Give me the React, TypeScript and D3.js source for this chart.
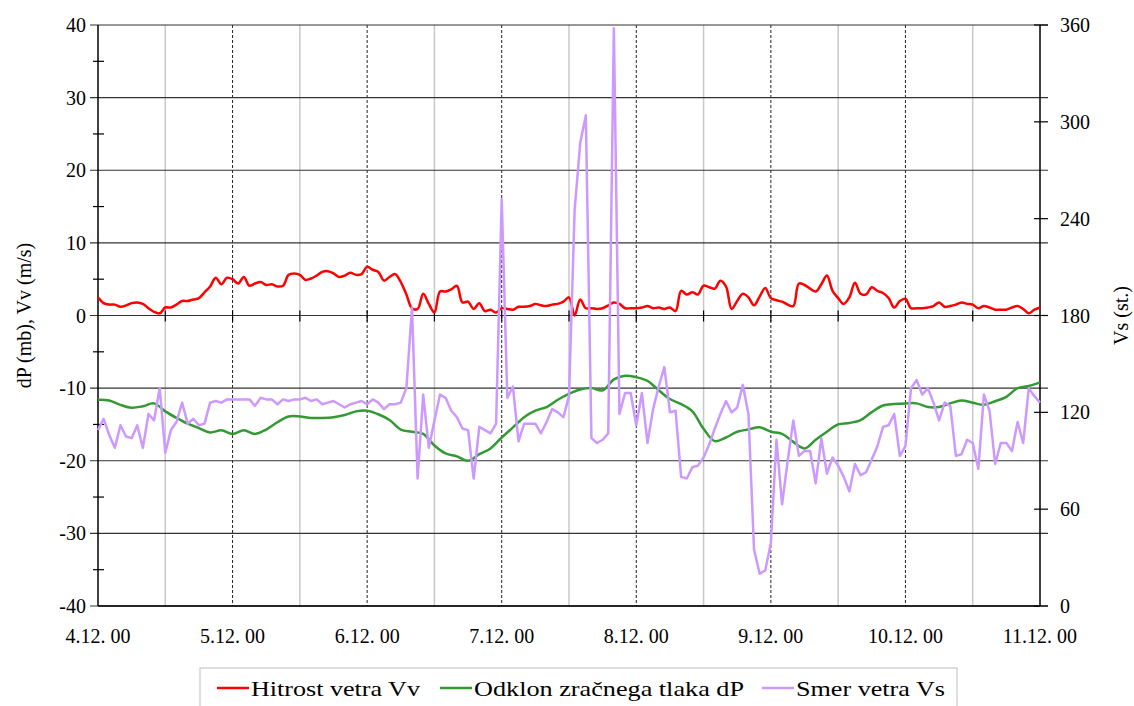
import React from 'react';
import * as d3 from 'd3';

// hourly wind speed Vv (m/s), 4.12.00 00h .. 11.12.00 00h
const vvHourly = [
  2.5, 1.7, 1.5, 1.5, 1.2, 1.4, 1.7, 1.8, 1.6, 1.0, 0.5, 0.3,
  1.1, 1.1, 1.5, 2.0, 2.0, 2.2, 2.4, 3.2, 4.0, 5.2, 4.3, 5.2,
  5.0, 4.4, 5.3, 4.1, 4.4, 4.6, 4.2, 4.3, 4.0, 4.1, 5.6, 5.8,
  5.6, 4.9, 5.1, 5.5, 6.0, 6.1, 5.8, 5.3, 5.5, 5.9, 5.6, 5.7,
  6.7, 6.3, 6.0, 4.8, 5.3, 5.7, 4.6, 2.9, 1.0, 0.9, 3.0, 1.6,
  0.4, 3.3, 3.3, 3.6, 4.1, 1.8, 1.9, 0.9, 1.7, 0.6, 0.8, 0.4,
  1.0, 0.9, 0.8, 1.2, 1.2, 1.3, 1.6, 1.4, 1.3, 1.5, 1.6, 1.9,
  2.5, 0.0, 2.2, 1.0, 1.0, 0.9, 1.0, 1.4, 1.8, 1.6, 1.0, 1.0,
  1.0, 1.1, 1.3, 1.0, 1.1, 0.9, 1.1, 0.6, 3.4, 2.9, 3.2, 2.9,
  4.1, 3.9, 3.7, 4.8, 4.0, 0.9, 2.0, 3.0, 2.5, 1.4, 2.6, 3.8,
  2.4, 2.1, 1.9, 1.5, 1.3, 4.4, 4.2, 3.7, 3.3, 4.3, 5.5, 3.4,
  2.4, 1.6, 2.5, 4.5, 3.0, 2.9, 3.9, 3.4, 3.1, 2.4, 1.1, 2.0,
  2.3, 1.0, 1.0, 1.0, 1.1, 1.3, 1.8, 1.2, 1.3, 1.5, 1.8, 1.6,
  1.5, 1.0, 1.3, 1.1, 0.8, 0.8, 0.8, 1.1, 1.3, 0.9, 0.3, 0.8,
  1.1,
];

// pressure deviation dP (mb), every 2 hours
const dpTwoHourly = [
  -11.6, -11.7, -12.3, -12.7, -12.5, -12.1, -13.2, -14.1, -14.9, -15.5, -16.1, -15.8,
  -16.3, -15.8, -16.3, -15.7, -14.7, -13.9, -13.9, -14.1, -14.1, -14.0, -13.7, -13.2,
  -13.1, -13.6, -14.4, -15.7, -16.0, -16.3, -17.9, -19.0, -19.4, -20.0, -19.1, -18.3,
  -16.8, -15.4, -14.0, -13.1, -12.6, -11.6, -10.8, -10.2, -10.0, -10.3, -8.8, -8.3,
  -8.5, -9.0, -10.3, -11.5, -12.2, -13.2, -15.6, -17.3, -16.8, -16.0, -15.7, -15.4,
  -16.0, -16.3, -17.4, -18.3, -17.1, -16.0, -15.0, -14.8, -14.4, -13.3, -12.4, -12.2,
  -12.1, -12.1, -12.6, -12.6, -12.1, -11.7, -12.0, -12.3, -11.8, -11.2, -10.0, -9.7,
  -9.2,
];

// hourly wind direction Vs (degrees)
const vsHourly = [
  109, 116, 106, 98, 112, 105, 104, 112, 98, 119, 115, 135,
  95, 109, 114, 126, 113, 116, 112, 113, 126, 127, 126, 128,
  128, 128, 128, 128, 124, 129, 128, 128, 125, 128, 127, 128,
  128, 129, 127, 128, 125, 126, 127, 125, 123, 125, 126, 127,
  125, 128, 126, 122, 125, 125, 126, 135, 185, 79, 131, 98,
  115, 131, 129, 121, 117, 110, 109, 79, 111, 109, 107, 113,
  252, 129, 136, 102, 113, 113, 113, 107, 114, 122, 120, 117,
  130, 245, 287, 304, 104, 101, 103, 107, 358, 119, 132, 132,
  112, 132, 101, 122, 136, 148, 120, 121, 80, 79, 86, 87,
  92, 100, 110, 119, 127, 120, 123, 137, 119, 35, 20, 22,
  39, 103, 63, 90, 115, 93, 96, 96, 76, 104, 82, 92,
  87, 80, 71, 88, 81, 83, 91, 99, 111, 112, 119, 93,
  99, 135, 140, 131, 135, 126, 115, 126, 124, 93, 94, 103,
  101, 85, 131, 121, 88, 101, 101, 96, 114, 101, 135, 130,
  126,
];

const dayLabels = ['4.12. 00', '5.12. 00', '6.12. 00', '7.12. 00', '8.12. 00', '9.12. 00', '10.12. 00', '11.12. 00'];
const leftTicks = [40, 30, 20, 10, 0, -10, -20, -30, -40];
const rightTicks = [360, 300, 240, 180, 120, 60, 0];

const legendItems = [
  { label: 'Hitrost vetra Vv', color: '#ff0000' },
  { label: 'Odklon zračnega tlaka dP', color: '#339933' },
  { label: 'Smer vetra Vs', color: '#cc99ff' },
];

const FONT = '"Liberation Serif", "Times New Roman", serif';

const App = () => {
  const W = 1134;
  const H = 706;
  const margin = { left: 98, right: 94, top: 25, bottom: 100 };
  const x0 = margin.left;
  const x1 = W - margin.right;
  const y0 = margin.top;
  const y1 = H - margin.bottom;

  const x = d3.scaleLinear().domain([0, 168]).range([x0, x1]);
  const yL = d3.scaleLinear().domain([-40, 40]).range([y1, y0]);
  const yR = d3.scaleLinear().domain([0, 360]).range([y1, y0]);

  const vvLine = d3.line<number>()
    .x((_, i) => x(i))
    .y(d => yL(d))
    .curve(d3.curveCatmullRom.alpha(0.5));
  const dpLine = d3.line<number>()
    .x((_, i) => x(i * 2))
    .y(d => yL(d))
    .curve(d3.curveCatmullRom.alpha(0.5));
  const vsLine = d3.line<number>()
    .x((_, i) => x(i))
    .y(d => yR(d));

  const halfDays = d3.range(1, 14, 2).map(h => h * 12);
  const days = d3.range(1, 7).map(d => d * 24);
  const minorTicks = d3.range(-35, 40, 10);

  return (
    <svg width={W} height={H} style={{ position: 'absolute', left: 0, top: 0, background: '#fff' }}
      fontFamily={FONT}>
      {/* vertical grid */}
      {halfDays.map(h => (
        <line key={'h' + h} x1={x(h)} x2={x(h)} y1={y0} y2={y1} stroke="#c8c8c8" strokeWidth={1.5} />
      ))}
      {days.map(h => (
        <line key={'d' + h} x1={x(h)} x2={x(h)} y1={y0} y2={y1} stroke="#222" strokeWidth={1}
          strokeDasharray="3,2" />
      ))}
      {/* horizontal grid */}
      {leftTicks.map(t => (
        <line key={'g' + t} x1={x0 - 8} x2={x1 + 8} y1={yL(t)} y2={yL(t)} stroke="#333" strokeWidth={1.2} />
      ))}
      {/* axes */}
      <line x1={x0} x2={x0} y1={y0} y2={y1} stroke="#000" strokeWidth={1.5} />
      <line x1={x1} x2={x1} y1={y0} y2={y1} stroke="#000" strokeWidth={1.5} />
      <line x1={x0} x2={x1} y1={y1} y2={y1} stroke="#000" strokeWidth={1.5} />
      {minorTicks.map(t => (
        <line key={'m' + t} x1={x0 - 5} x2={x0 + 6} y1={yL(t)} y2={yL(t)} stroke="#000" strokeWidth={1.2} />
      ))}
      {rightTicks.map(t => (
        <line key={'r' + t} x1={x1 - 6} x2={x1 + 8} y1={yR(t)} y2={yR(t)} stroke="#000" strokeWidth={1.2} />
      ))}
      {halfDays.concat(days).map(h => (
        <line key={'x' + h} x1={x(h)} x2={x(h)} y1={yL(0) - 5} y2={yL(0) + 6} stroke="#000" strokeWidth={1.2} />
      ))}

      {/* series */}
      <path d={vvLine(vvHourly) ?? ''} fill="none" stroke="#ff0000" strokeWidth={2.5} strokeLinejoin="round" />
      <path d={dpLine(dpTwoHourly) ?? ''} fill="none" stroke="#339933" strokeWidth={2.5} strokeLinejoin="round" />
      <path d={vsLine(vsHourly) ?? ''} fill="none" stroke="#cc99ff" strokeWidth={2.5} strokeLinejoin="round" />

      {/* tick labels */}
      {leftTicks.map(t => (
        <text key={'lt' + t} x={x0 - 12} y={yL(t) + 7} textAnchor="end" fontSize={20} fill="#000">{t}</text>
      ))}
      {rightTicks.map(t => (
        <text key={'rt' + t} x={x1 + 20} y={yR(t) + 7} textAnchor="start" fontSize={20} fill="#000">{t}</text>
      ))}
      {dayLabels.map((lab, i) => (
        <text key={lab} x={x(i * 24)} y={y1 + 37} textAnchor="middle" fontSize={20} fill="#000">{lab}</text>
      ))}

      {/* axis titles */}
      <text transform={`translate(31, ${yL(0)}) rotate(-90)`} textAnchor="middle" fontSize={20} fill="#000">
        dP (mb), Vv (m/s)
      </text>
      <text transform={`translate(1128, ${yL(0)}) rotate(-90)`} textAnchor="middle" fontSize={20} fill="#000">
        Vs (st.)
      </text>

      {/* legend */}
      <rect x={200} y={668} width={757} height={50} fill="#fff" stroke="#c8c8c8" strokeWidth={1.2} />
      {legendItems.map((it, i) => {
        const lx = [217, 440, 762][i];
        const tw = [169, 270, 149][i];
        return (
          <g key={it.label}>
            <line x1={lx} x2={lx + 32} y1={688} y2={688} stroke={it.color} strokeWidth={2.5} />
            <text x={lx + 34} y={696} fontSize={22} fill="#000" textLength={tw} lengthAdjust="spacingAndGlyphs">
              {it.label}
            </text>
          </g>
        );
      })}
    </svg>
  );
};

export default App;
